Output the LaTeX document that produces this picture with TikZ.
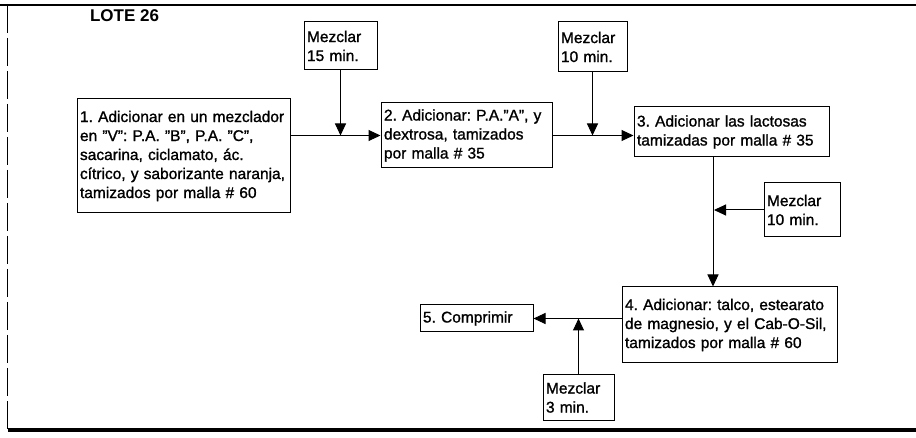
\documentclass[tikz,border=0pt]{standalone}
\usepackage{fontspec}
\setmainfont{Liberation Sans}[BoldFont={Liberation Sans}, BoldFeatures={FakeBold=1.2}]
\newfontfamily\titulofont{Liberation Sans Bold}
\usetikzlibrary{arrows.meta, positioning, calc}
\frenchspacing

\begin{document}
\begin{tikzpicture}[
    x=1pt, y=-1pt,
    every node/.style={font=\fontsize{15.5}{19}\selectfont\bfseries},
    caja/.style={draw, line width=1pt, rectangle, align=left, inner sep=3pt},
    flecha/.style={draw, line width=1pt, -{Triangle[length=12pt, width=11pt]}}
]
\useasboundingbox (0,0) rectangle (916,438);

% marco
\draw[line width=1.5pt] (0,5) -- (916,5);
\draw[line width=0.6pt, dash pattern=on 28pt off 5pt] (7,5) -- (7,430);
\draw[line width=4pt] (8,430) -- (916,430);

\node[font=\fontsize{17}{20}\selectfont\titulofont] (lote) at (124.5,16) {LOTE 26};

% pasos
\node[caja, text width=207pt, minimum height=114pt] (paso1) at (183.5,156)
  {1. Adicionar en un mezclador\\en \symbol{34}V\symbol{34}: P.A. \symbol{34}B\symbol{34}, P.A. \symbol{34}C\symbol{34},\\sacarina, ciclamato, ác.\\cítrico, y saborizante naranja,\\tamizados por malla \# 60};
\node[caja, text width=165pt, minimum height=65pt] (paso2) at (466.5,135.5)
  {2. Adicionar: P.A.\symbol{34}A\symbol{34}, y\\dextrosa, tamizados\\por malla \# 35};
\node[caja, text width=189pt, minimum height=50pt] (paso3) at (731.5,132)
  {3. Adicionar las lactosas\\tamizadas por malla \# 35};
\node[caja, text width=209pt, minimum height=76pt] (paso4) at (729.5,325)
  {4. Adicionar: talco, estearato\\de magnesio, y el Cab-O-Sil,\\tamizados por malla \# 60};
\node[caja, text width=107pt, minimum height=27pt] (paso5) at (476.5,318.5)
  {5. Comprimir};

% mezclados
\node[caja, text width=67pt, minimum height=48pt] (mez15) at (340.5,46) {Mezclar\\15 min.};
\node[caja, text width=63pt, minimum height=50pt] (mez10a) at (592.5,47) {Mezclar\\10 min.};
\node[caja, text width=70pt, minimum height=54pt] (mez10b) at (802,210) {Mezclar\\10 min.};
\node[caja, text width=65pt, minimum height=45pt] (mez3) at (578.5,397.5) {Mezclar\\3 min.};

% conectores
\coordinate (baja3) at ([xshift=-18.5pt]paso3.south);
\draw[flecha] (paso2.west -| paso1.east) -- (paso2.west);
\draw[flecha] (mez15.south) -- (mez15.south |- paso2.west);
\draw[flecha] (paso2.east) -- (paso2.east -| paso3.west);
\draw[flecha] (mez10a.south) -- (mez10a.south |- paso2.east);
\draw[flecha] (baja3) -- (baja3 |- paso4.north);
\draw[flecha] (mez10b.west) -- ([xshift=1pt]mez10b.west -| baja3);
\draw[flecha] (paso4.west |- paso5.east) -- (paso5.east);
\draw[flecha] (mez3.north) -- (mez3.north |- paso5.east);
\end{tikzpicture}
\end{document}
